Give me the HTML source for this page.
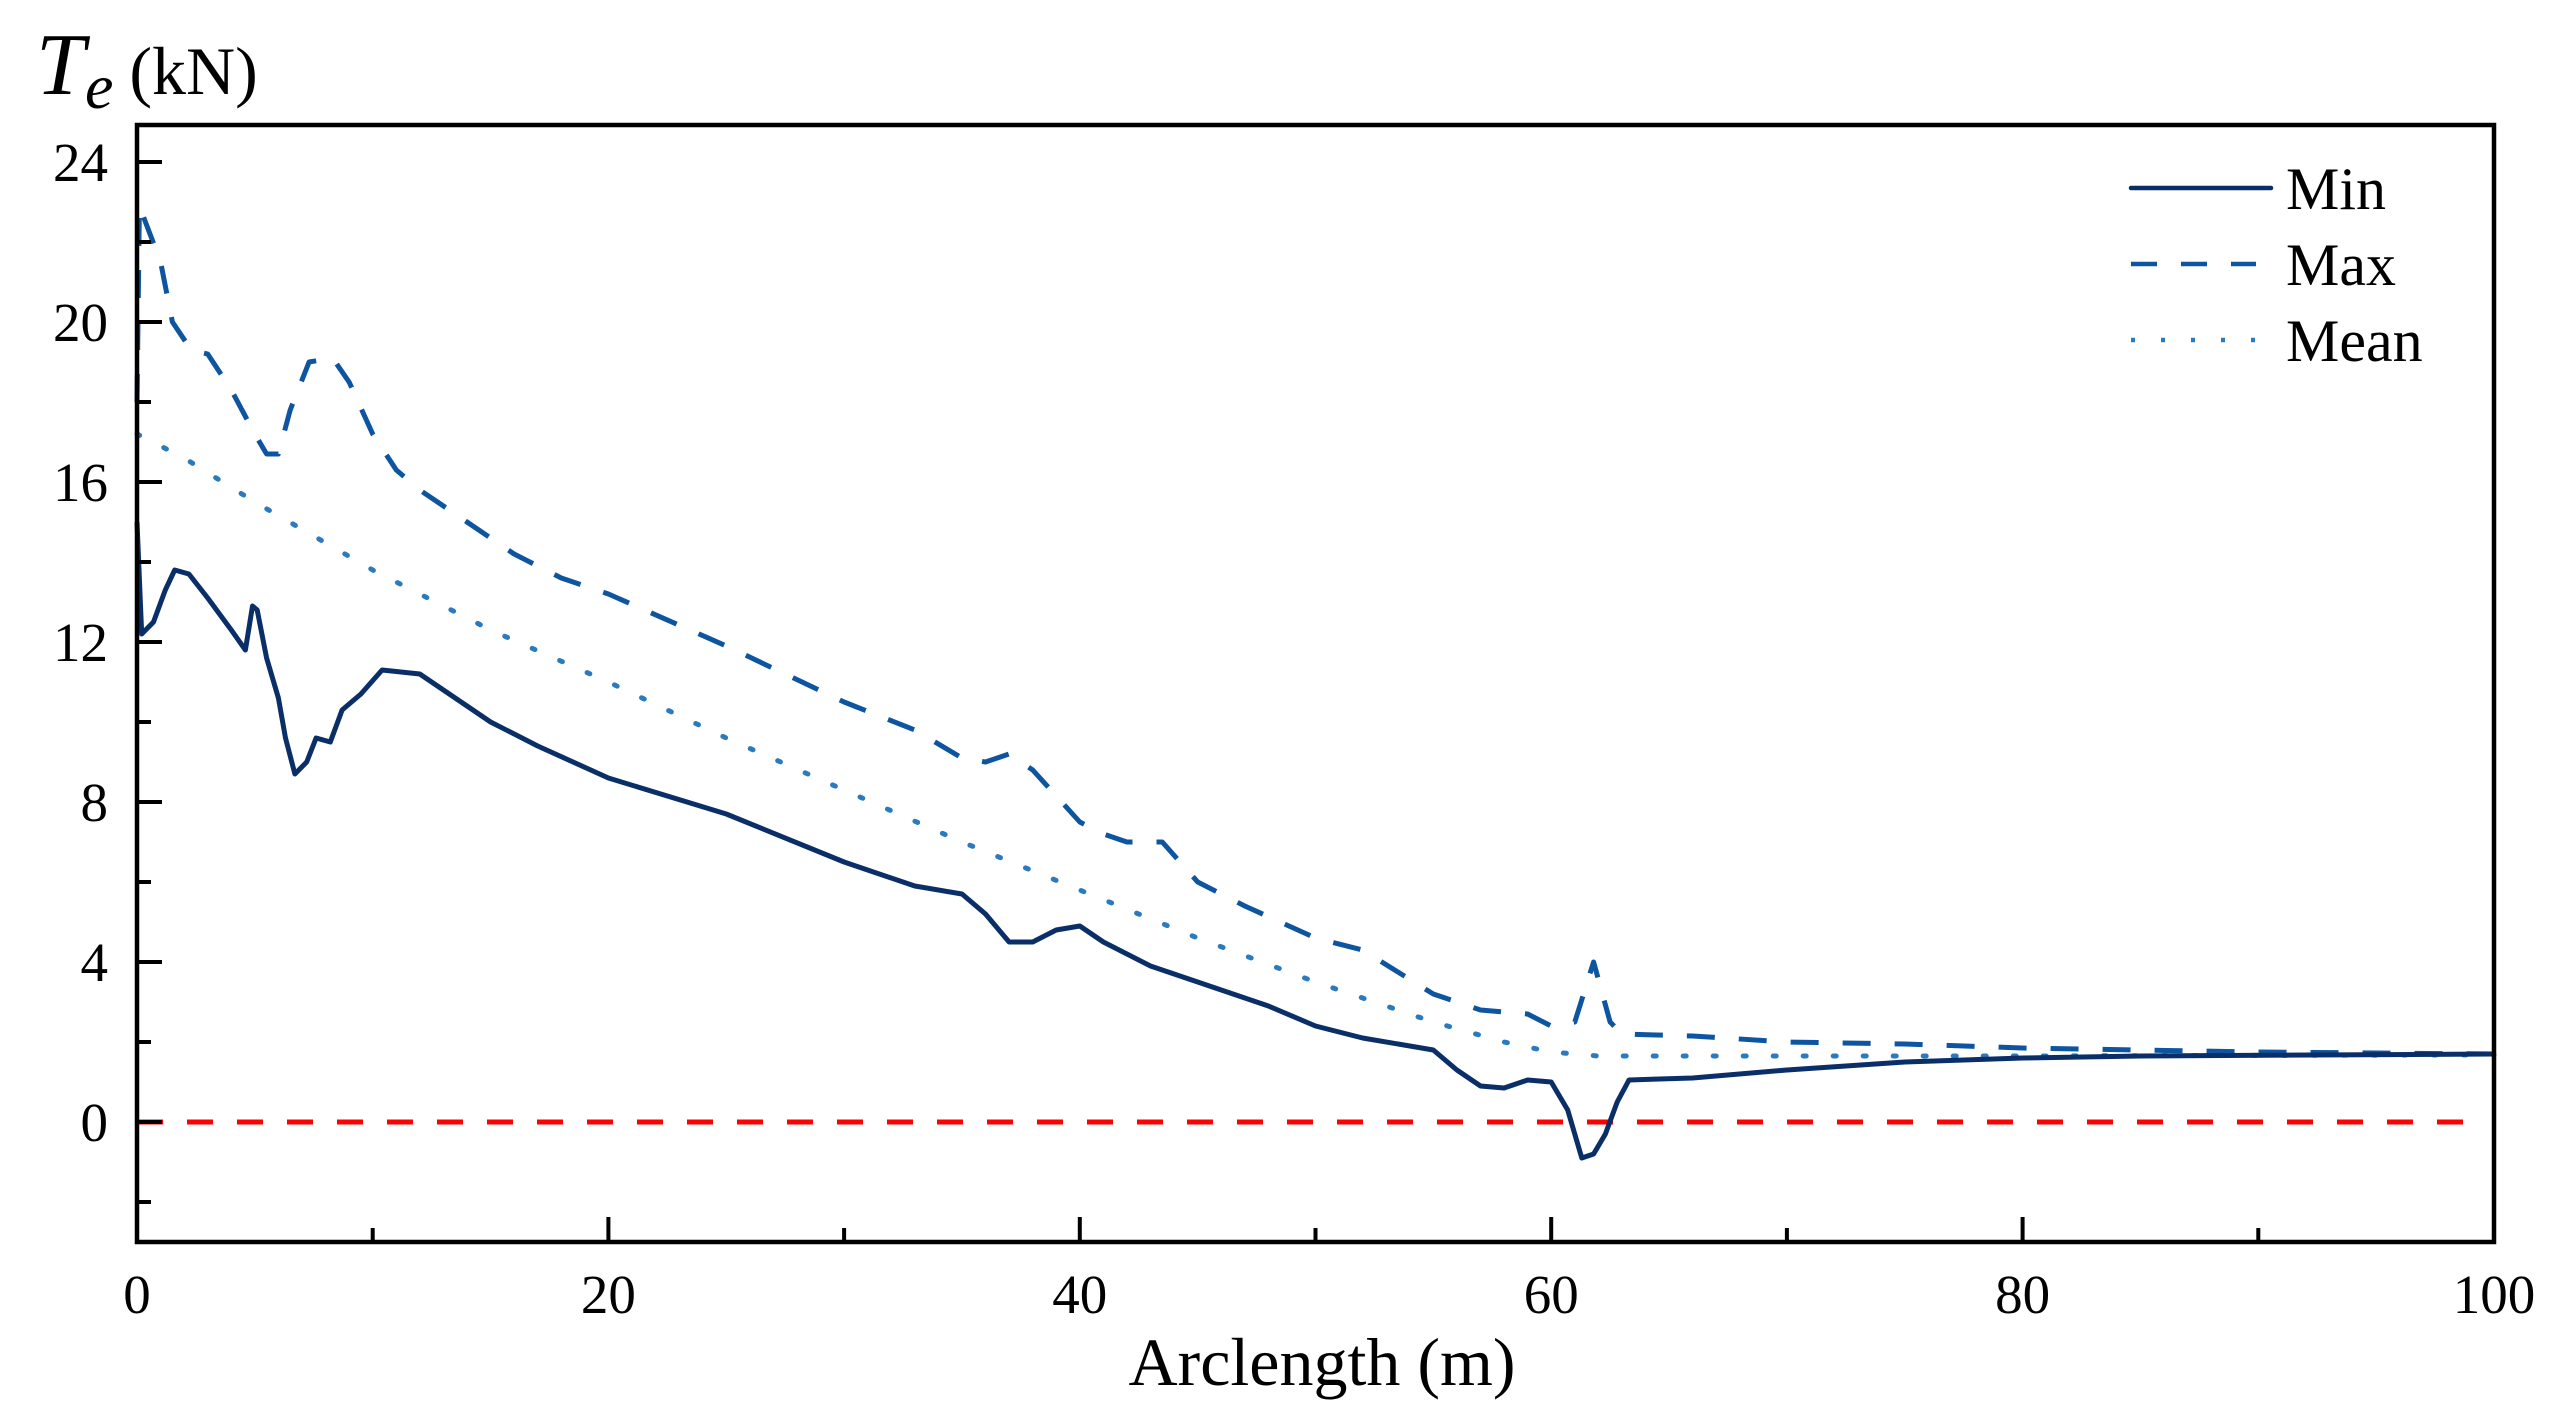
<!DOCTYPE html>
<html><head><meta charset="utf-8"><style>
html,body{margin:0;padding:0;background:#fff;}
svg{display:block;font-family:"Liberation Serif",serif;}
</style></head><body>
<svg id="chart" width="2558" height="1415" viewBox="0 0 2558 1415" xmlns="http://www.w3.org/2000/svg">
<g id="plot"></g>
</svg>
<script>
const xMinX=[0,0.2,0.7,1.2,1.6,2.2,3,4,4.6,4.9,5.1,5.5,6,6.3,6.7,7.2,7.6,8.2,8.7,9.5,10.4,12,13.5,15,17,20,25,30,33,35,36,37,38,39,40,41,43,45,48,50,52,55,56,57,58,59,60,60.7,61.3,61.8,62.3,62.8,63.3,66,70,75,80,85,100];
const minVals=[15,12.2,12.5,13.3,13.8,13.7,13.1,12.3,11.8,12.9,12.8,11.6,10.6,9.6,8.7,9.0,9.6,9.5,10.3,10.7,11.3,11.2,10.6,10,9.4,8.6,7.7,6.5,5.9,5.7,5.2,4.5,4.5,4.8,4.9,4.5,3.9,3.5,2.9,2.4,2.1,1.8,1.3,0.9,0.85,1.05,1.0,0.3,-0.9,-0.8,-0.3,0.5,1.05,1.1,1.3,1.5,1.6,1.65,1.7];
const xMaxX=[0,0.1,1,1.5,2.3,3,4,5,5.5,6,6.5,7.3,8.3,9,10,11,12,14,16,18,20,25,30,33,35,36,37,38,40,41,42,43.5,45,47,50,52,55,57,59,60,61,61.8,62.5,63,66,70,75,80,85,90,100];
const maxVals=[18,22.9,21.5,20,19.3,19.2,18.3,17.2,16.7,16.7,17.8,19,19.1,18.5,17.2,16.3,15.8,15.0,14.2,13.6,13.2,11.9,10.5,9.8,9.1,9.0,9.2,8.8,7.5,7.2,7.0,7.0,6.0,5.4,4.6,4.3,3.2,2.8,2.7,2.4,2.5,4.0,2.5,2.2,2.15,2.0,1.95,1.85,1.8,1.75,1.7];
const xMeanX=[0,2,5,10,15,20,25,30,35,40,45,50,55,58,60,62,70,80,100];
const meanVals=[17.2,16.6,15.5,13.8,12.3,11.0,9.6,8.3,7.0,5.8,4.6,3.5,2.5,2.0,1.75,1.65,1.65,1.65,1.68];
const xTicks=[0,20,40,60,80,100];
const yTicks=[0,4,8,12,16,20,24];

const L=137,R=2494,T=125,B=1242;
const X=v=>L+(v-0)*(R-L)/100;
const Y=v=>1122-v*40;
const NS="http://www.w3.org/2000/svg";
const g=document.getElementById('plot');
function mk(tag,attrs,parent){const e=document.createElementNS(NS,tag);for(const k in attrs)e.setAttribute(k,attrs[k]);(parent||g).appendChild(e);return e;}

let zl=mk('line',{x1:X(0),x2:2470,y1:Y(0),y2:Y(0),stroke:'#ff0000','stroke-width':5,'stroke-dasharray':'26 24'});



function series(xs,vs,color,dash,name){
  const d=xs.map((x,i)=>(i?'L':'M')+X(x).toFixed(1)+' '+Y(vs[i]).toFixed(1)).join(' ');
  const p=mk('path',{d:d,fill:'none',stroke:color,'stroke-width':5,'stroke-linejoin':'round','stroke-linecap':dash==='dot'?'round':'butt'});
  if(dash==='dash')p.setAttribute('stroke-dasharray','28 24');
  if(dash==='dot')p.setAttribute('stroke-dasharray','3 27');
  
  
}
series(xMeanX,meanVals,'#2a7abf','dot','series-mean');
series(xMaxX,maxVals,'#0d55a0','dash','series-max');
series(xMinX,minVals,'#0a2f68','','series-min');

let fr=mk('rect',{x:L,y:T,width:R-L,height:B-T,fill:'none',stroke:'#000','stroke-width':4.5});



for(let v=-2;v<=24;v+=2){
  const major=v%4===0;
  const t=mk('line',{x1:L,x2:L+(major?25:14),y1:Y(v),y2:Y(v),stroke:'#000','stroke-width':4});
  
  
}
yTicks.forEach(v=>{
  const t=mk('text',{x:108,y:Y(v)+19,'text-anchor':'end','font-size':55,fill:'#000'});
  t.textContent=v;
  
  
});
for(let v=10;v<100;v+=10){
  const major=v%20===0;
  const t=mk('line',{x1:X(v),x2:X(v),y1:B,y2:B-(major?25:14),stroke:'#000','stroke-width':4});
  
  
}
xTicks.forEach(v=>{
  const t=mk('text',{x:X(v),y:1313,'text-anchor':'middle','font-size':55,fill:'#000'});
  t.textContent=v;
  
  
});

let xt=mk('text',{x:1322,y:1385,'text-anchor':'middle','font-size':68,fill:'#000'});
xt.textContent='Arclength (m)';


let yt=mk('text',{x:36,y:94,'font-size':68,fill:'#000'});
yt.innerHTML='<tspan font-style="italic" font-size="88">T</tspan><tspan font-style="italic" font-size="64" dy="14">e</tspan><tspan dy="-14" dx="16">(kN)</tspan>';



const leg=mk('g',{});


const entries=[['Min','#0a2f68','',188],['Max','#0d55a0','26 24',264],['Mean','#2a7abf','4 26',340]];
entries.forEach(e=>{
  const ln=mk('line',{x1:2131,x2:e[0]==='Max'?2256:2271,y1:e[3],y2:e[3],stroke:e[1],'stroke-width':4.5,'stroke-linecap':e[2]?'butt':'round'},leg);
  if(e[2])ln.setAttribute('stroke-dasharray',e[2]);
  
  
  const tx=mk('text',{x:2286,y:e[3]+21,'font-size':60,fill:'#000'},leg);
  tx.textContent=e[0];
  
  
});
</script>
</body></html>
